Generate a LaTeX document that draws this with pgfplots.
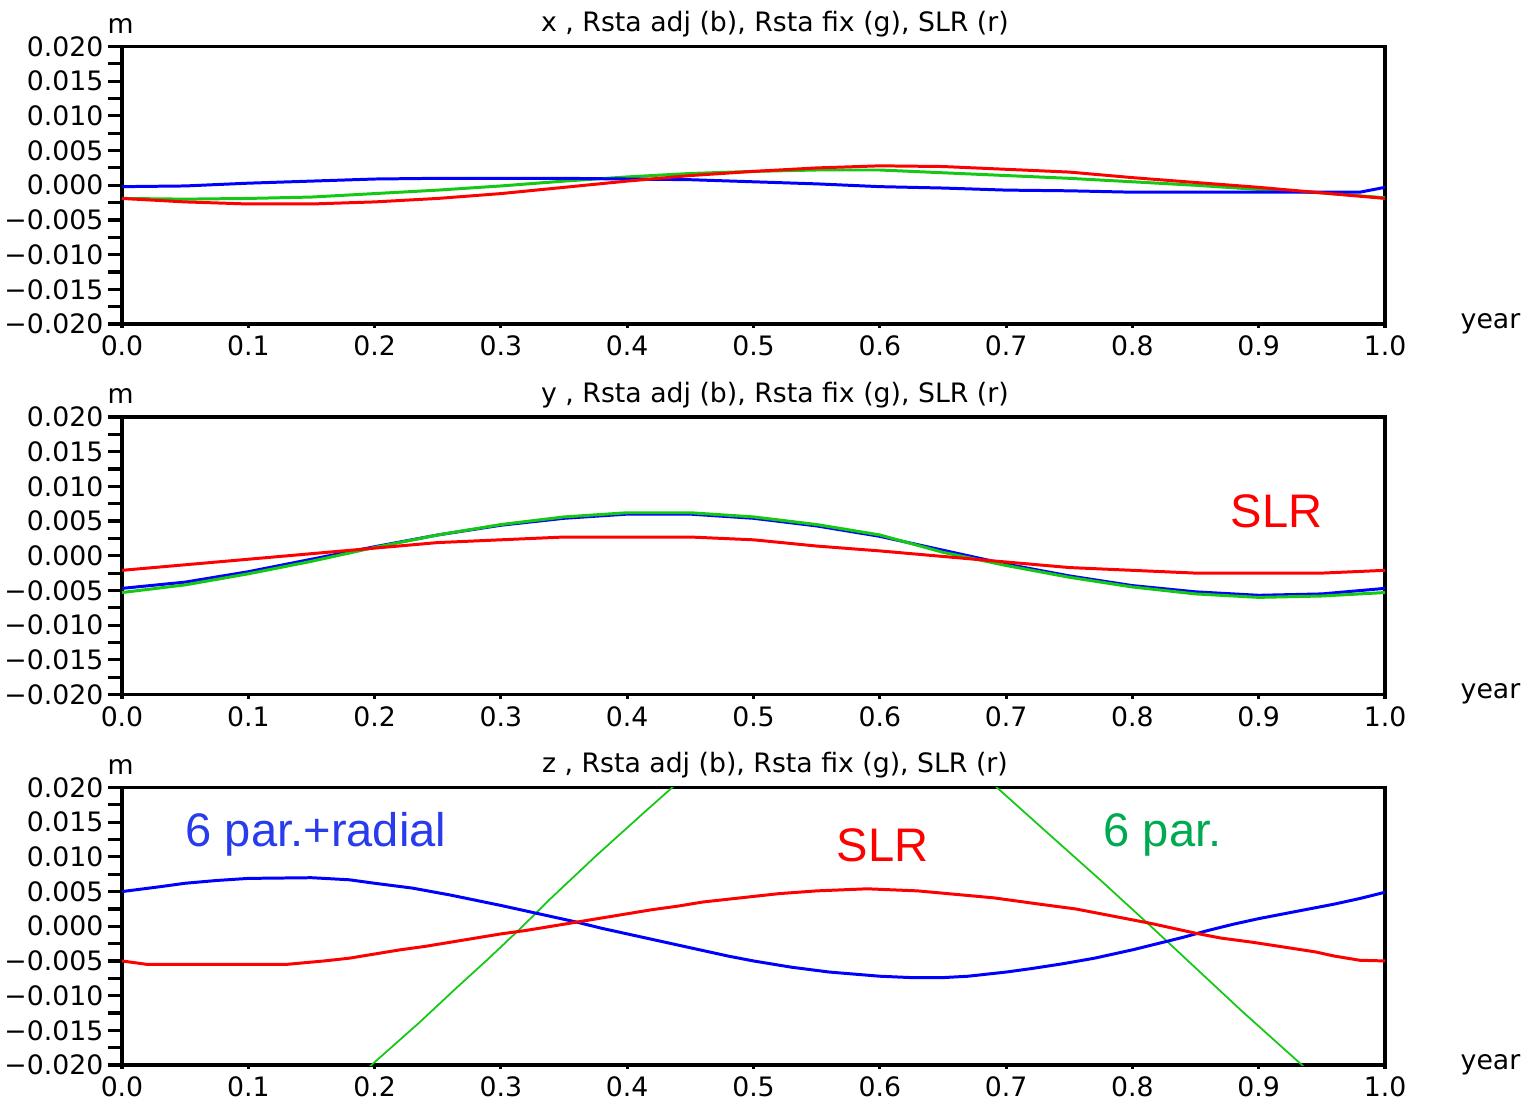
\documentclass[border=0pt]{standalone}
\usepackage{fontspec}
\setmainfont{DejaVu Sans}
\newfontfamily\arial{Liberation Sans}
\usepackage{pgfplots}
\pgfplotsset{compat=1.18}

\definecolor{lblue}{RGB}{0,0,255}
\definecolor{lred}{RGB}{255,0,0}
\definecolor{lgreen}{RGB}{20,200,20}
\definecolor{tblue}{RGB}{40,60,235}
\definecolor{tred}{RGB}{255,0,0}
\definecolor{tgreen}{RGB}{0,170,80}

\tikzset{lbl/.style={font=\fontsize{7.6}{9}\selectfont, inner sep=0pt},
         big/.style={font=\arial\fontsize{13.4}{16}\selectfont, inner sep=0pt, anchor=base west}}

\pgfplotsset{
  every axis title/.style={at={(0.517,1)}, anchor=base, yshift=0.15cm,
     font=\fontsize{7.6}{9}\selectfont, inner sep=0pt},
  panel/.style={
    scale only axis, width=12.63cm, height=2.775cm,
    xmin=0, xmax=1, ymin=-0.02, ymax=0.02,
    axis line style={line width=0.9pt, black},
    xtick={0,0.1,0.2,0.3,0.4,0.5,0.6,0.7,0.8,0.9,1},
    xticklabels={0.0,0.1,0.2,0.3,0.4,0.5,0.6,0.7,0.8,0.9,1.0},
    ytick={-0.02,-0.015,-0.01,-0.005,0,0.005,0.01,0.015,0.02},
    yticklabels={−0.020,−0.015,−0.010,−0.005,0.000,0.005,0.010,0.015,0.020},
    minor ytick={-0.0175,-0.0125,-0.0075,-0.0025,0.0025,0.0075,0.0125,0.0175},
    scaled y ticks=false,
    tick align=outside,
    xtick pos=bottom, ytick pos=left,
    major tick length=0.14cm, minor tick length=0.14cm,
    xtick style={/pgfplots/major tick length=0.04cm},
    tick style={line width=0.9pt, black},
    ticklabel style={font=\fontsize{7.6}{9}\selectfont, inner sep=0pt},
    yticklabel style={anchor=east, xshift=-0.04cm},
    xticklabel style={anchor=north, yshift=0.03cm},
    every axis plot/.append style={line width=0.85pt, mark=none},
  }
}

\begin{document}
\begin{tikzpicture}
\useasboundingbox (-1.22,0.465) rectangle (13.99,-10.555);

% ---------------- panel x ----------------
\begin{axis}[panel, name=p1, at={(0,0)}, anchor=north west,
  title={x , Rsta adj (b), Rsta fix (g), SLR (r)}]
\addplot[lgreen] coordinates {
(0,-0.0019) (0.05,-0.0020) (0.1,-0.0019) (0.15,-0.0017) (0.2,-0.0012) (0.25,-0.0007)
(0.3,-0.0001) (0.35,0.0006) (0.4,0.0012) (0.45,0.0017) (0.5,0.0020) (0.55,0.0022)
(0.6,0.0022) (0.65,0.0018) (0.7,0.0014) (0.75,0.0010) (0.8,0.0005) (0.85,0.0000)
(0.9,-0.0006) (0.95,-0.0011) (1.0,-0.0018)};
\addplot[lblue] coordinates {
(0,-0.0002) (0.05,-0.0001) (0.1,0.0003) (0.15,0.0006) (0.2,0.0009) (0.25,0.0010)
(0.3,0.0010) (0.35,0.0010) (0.4,0.0009) (0.45,0.0008) (0.5,0.0005) (0.55,0.0002)
(0.6,-0.0002) (0.65,-0.0004) (0.7,-0.0007) (0.75,-0.0008) (0.8,-0.0010) (0.85,-0.0010)
(0.9,-0.0010) (0.95,-0.0010) (0.98,-0.0010) (1.0,-0.0003)};
\addplot[lred] coordinates {
(0,-0.0019) (0.05,-0.0024) (0.1,-0.0027) (0.15,-0.0027) (0.2,-0.0024) (0.25,-0.0019)
(0.3,-0.0012) (0.35,-0.0003) (0.4,0.0006) (0.45,0.0014) (0.5,0.0020) (0.55,0.0025)
(0.6,0.0028) (0.65,0.0027) (0.7,0.0023) (0.75,0.0019) (0.8,0.0011) (0.85,0.0004)
(0.9,-0.0003) (0.95,-0.0011) (1.0,-0.0019)};
\end{axis}
\node[lbl, anchor=base west] at ([xshift=-0.15cm,yshift=0.134cm]p1.north west) {m};
\node[lbl, anchor=base west] at ([xshift=0.75cm,yshift=-0.04cm]p1.south east) {year};

% ---------------- panel y ----------------
\begin{axis}[panel, name=p2, at={(0,-3.705cm)}, anchor=north west,
  title={y , Rsta adj (b), Rsta fix (g), SLR (r)}]
\addplot[lblue] coordinates {
(0,-0.0047) (0.05,-0.0038) (0.1,-0.0023) (0.15,-0.0005) (0.2,0.0013) (0.25,0.0030)
(0.3,0.0044) (0.35,0.0054) (0.4,0.0060) (0.45,0.0060) (0.5,0.0054) (0.55,0.0043)
(0.6,0.0028) (0.65,0.0008) (0.7,-0.0012) (0.75,-0.0029) (0.8,-0.0043) (0.85,-0.0052)
(0.9,-0.0057) (0.95,-0.0055) (1.0,-0.0047)};
\addplot[lgreen] coordinates {
(0,-0.0053) (0.05,-0.0042) (0.1,-0.0026) (0.15,-0.0008) (0.2,0.0012) (0.25,0.0030)
(0.3,0.0045) (0.35,0.0056) (0.4,0.0062) (0.45,0.0062) (0.5,0.0056) (0.55,0.0045)
(0.6,0.0030) (0.65,0.0005) (0.7,-0.0014) (0.75,-0.0031) (0.8,-0.0045) (0.85,-0.0055)
(0.9,-0.0060) (0.95,-0.0058) (1.0,-0.0053)};
\addplot[lred] coordinates {
(0,-0.0021) (0.05,-0.0013) (0.1,-0.0005) (0.15,0.0003) (0.2,0.0011) (0.25,0.0019)
(0.3,0.0023) (0.35,0.0027) (0.4,0.0027) (0.45,0.0027) (0.5,0.0023) (0.55,0.0014)
(0.6,0.0007) (0.65,-0.0001) (0.7,-0.0009) (0.75,-0.0017) (0.8,-0.0021) (0.85,-0.0025)
(0.9,-0.0025) (0.95,-0.0025) (1.0,-0.0021)};
\node[big, text=tred] at (axis cs:0.8773,0.00407) {SLR};
\end{axis}
\node[lbl, anchor=base west] at ([xshift=-0.15cm,yshift=0.134cm]p2.north west) {m};
\node[lbl, anchor=base west] at ([xshift=0.75cm,yshift=-0.04cm]p2.south east) {year};

% ---------------- panel z ----------------
\begin{axis}[panel, name=p3, at={(0,-7.41cm)}, anchor=north west,
  title={z , Rsta adj (b), Rsta fix (g), SLR (r)}]
\addplot[lgreen, line width=0.5pt] coordinates {
(0.16,-0.0263) (0.1975,-0.0200) (0.2353,-0.0139) (0.2653,-0.0088) (0.29,-0.0047)
(0.315,-0.0004) (0.34,0.0041) (0.375,0.0101) (0.414,0.0165) (0.435,0.0199)
(0.47,0.0258) (0.56,0.0330) (0.66,0.0254) (0.6927,0.0200) (0.735,0.0131) (0.775,0.0066)
(0.814,0.0001) (0.85,-0.0060) (0.8865,-0.0122) (0.933,-0.0198) (0.97,-0.0260)};
\addplot[lblue] coordinates {
(0,0.0050) (0.03,0.0057) (0.05,0.0062) (0.075,0.0066) (0.1,0.0069) (0.15,0.0070)
(0.18,0.0067) (0.2,0.0062) (0.23,0.0055) (0.26,0.0045) (0.3,0.0030) (0.33,0.0018)
(0.36,0.0006) (0.38,-0.0003) (0.4,-0.0011) (0.42,-0.0019) (0.45,-0.0031) (0.48,-0.0043)
(0.5,-0.0050) (0.53,-0.0059) (0.56,-0.0066) (0.6,-0.0072) (0.625,-0.0074) (0.65,-0.0074)
(0.67,-0.0072) (0.7,-0.0066) (0.72,-0.0061) (0.745,-0.0054) (0.77,-0.0046) (0.8,-0.0034)
(0.82,-0.0025) (0.84,-0.0016) (0.86,-0.0006) (0.88,0.0003) (0.9,0.0011) (0.92,0.0018)
(0.94,0.0025) (0.96,0.0032) (0.98,0.0040) (1.0,0.0049)};
\addplot[lred] coordinates {
(0,-0.0050) (0.02,-0.0055) (0.13,-0.0055) (0.16,-0.0050) (0.18,-0.0046) (0.2,-0.0040)
(0.22,-0.0034) (0.24,-0.0029) (0.26,-0.0023) (0.28,-0.0017) (0.3,-0.0011) (0.32,-0.0006)
(0.34,0.0000) (0.36,0.0006) (0.38,0.0012) (0.4,0.0018) (0.42,0.0024) (0.44,0.0029)
(0.46,0.0035) (0.49,0.0041) (0.52,0.0047) (0.55,0.0051) (0.59,0.0054) (0.63,0.0051)
(0.66,0.0046) (0.69,0.0041) (0.71,0.0036) (0.73,0.0031) (0.755,0.0025) (0.775,0.0018)
(0.795,0.0011) (0.815,0.0004) (0.835,-0.0004) (0.85,-0.0010) (0.87,-0.0017) (0.895,-0.0023)
(0.92,-0.0030) (0.945,-0.0037) (0.96,-0.0043) (0.98,-0.0049) (1.0,-0.0050)};
\node[big, text=tblue] at (axis cs:0.0499,0.01148) {6 par.+radial};
\node[big, text=tred] at (axis cs:0.5653,0.00933) {SLR};
\node[big, text=tgreen] at (axis cs:0.7767,0.01148) {6 par.};
\end{axis}
\node[lbl, anchor=base west] at ([xshift=-0.15cm,yshift=0.134cm]p3.north west) {m};
\node[lbl, anchor=base west] at ([xshift=0.75cm,yshift=-0.04cm]p3.south east) {year};
\end{tikzpicture}
\end{document}
